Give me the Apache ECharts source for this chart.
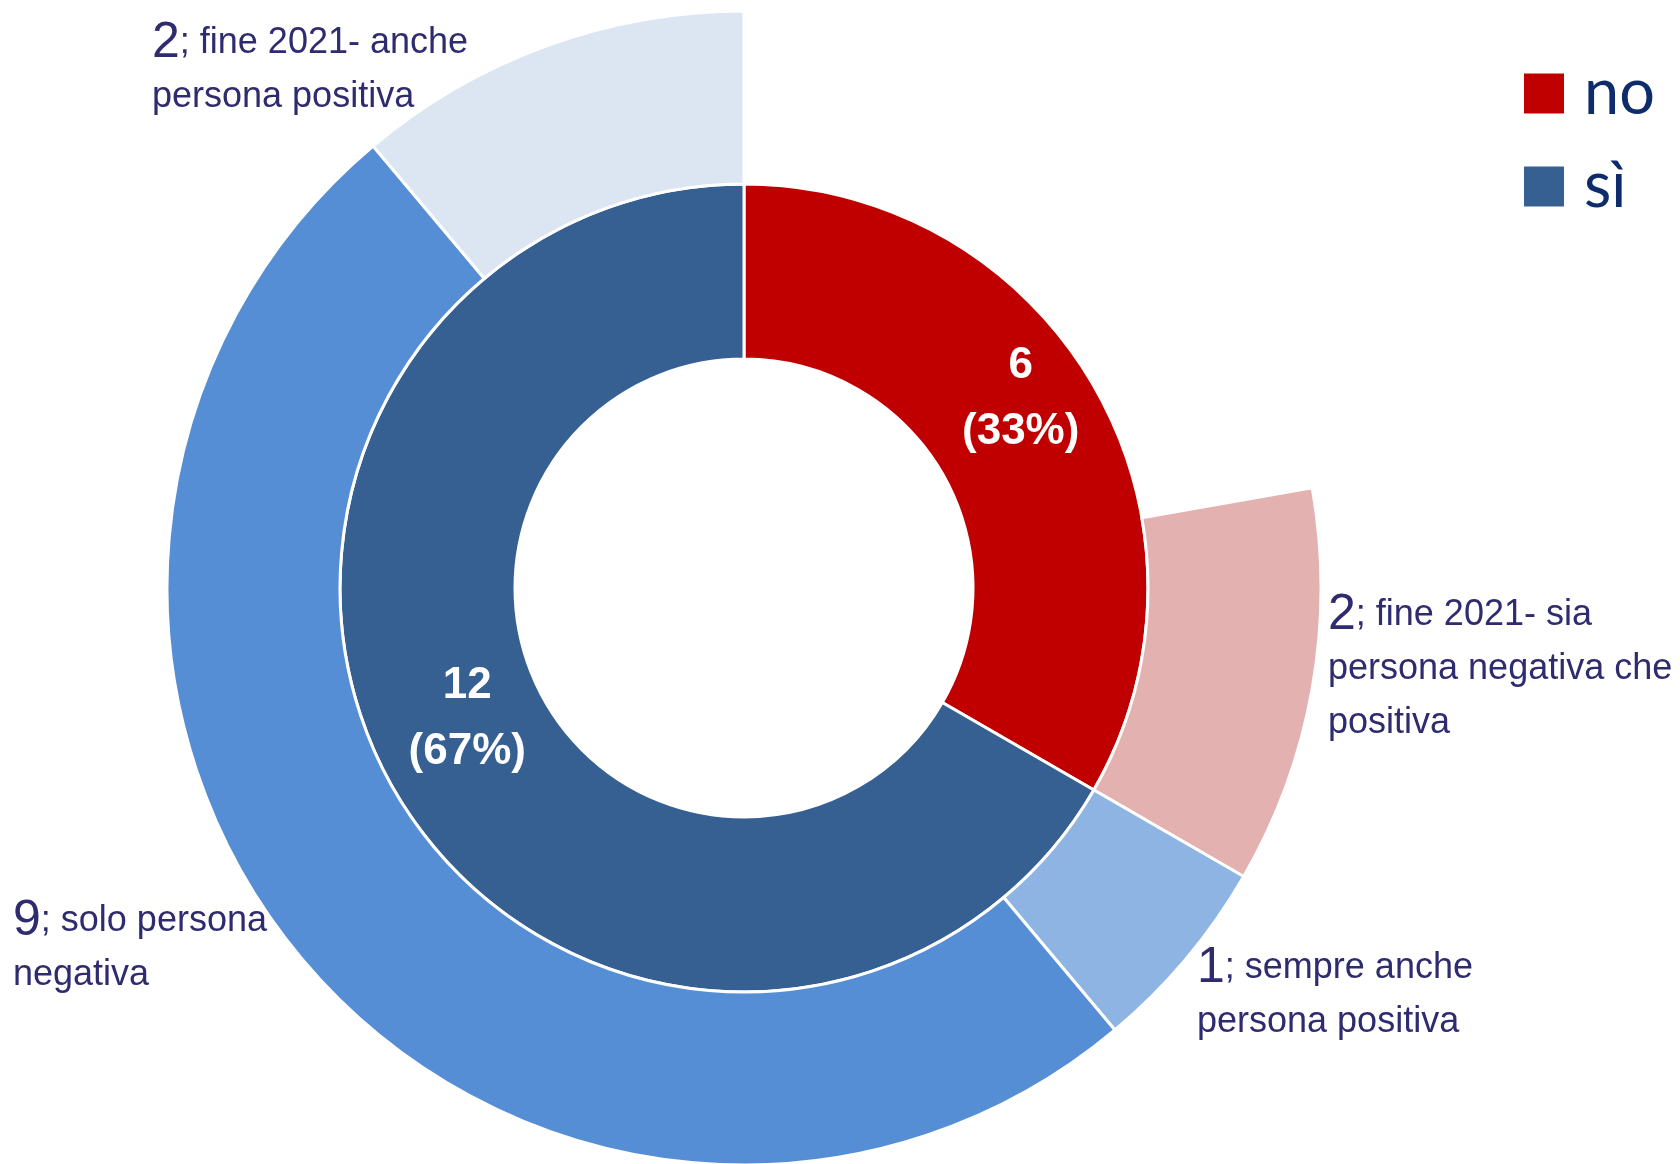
<!DOCTYPE html>
<html>
<head>
<meta charset="utf-8">
<script src="https://cdn.jsdelivr.net/npm/echarts@6/dist/echarts.min.js"></script>
<style>
  html, body { margin: 0; padding: 0; background: #fff; }
  #chart { width: 1680px; height: 1164px; }
</style>
</head>
<body>
<div id="chart"></div>
<script>
// anello interno
var innerNames = ['no', 'sì'];
var innerValues = [6, 12];
var innerColors = ['#C00000', '#376092'];

// anello esterno (il primo pezzo è vuoto: i 4 "no" senza dettaglio)
var outerNames = [
    '',
    'fine 2021- sia\npersona negativa che\npositiva',
    'sempre anche\npersona positiva',
    'solo persona\nnegativa',
    'fine 2021- anche\npersona positiva'
];
var outerValues = [4, 2, 1, 9, 2];
var outerColors = ['rgba(0,0,0,0)', '#E3B1B0', '#8EB4E3', '#558ED5', '#DCE6F2'];

// posizione delle etichette esterne (sinistra, centro verticale)
var labelPos = [null, [1328, 669], [1197, 995], [13, 948], [152, 70]];

var font = "'Liberation Sans', Arial, sans-serif";

var chartDom = document.getElementById('chart');
var myChart = echarts.init(chartDom);

var innerData = innerNames.map(function (n, i) {
    return { name: n, value: innerValues[i], itemStyle: { color: innerColors[i] } };
});

var outerData = outerNames.map(function (n, i) {
    var d = { name: n, value: outerValues[i], itemStyle: { color: outerColors[i] } };
    if (i === 0) {
        d.itemStyle.borderWidth = 0;
        d.label = { show: false };
        d.emphasis = { disabled: true };
    }
    return d;
});

var option = {
    animation: false,
    legend: {
        data: innerNames,
        orient: 'vertical',
        left: 1517,
        top: 57,
        itemWidth: 42,
        itemHeight: 42,
        itemGap: 30,
        icon: 'rect',
        textStyle: {
            fontFamily: 'Lato, "Open Sans", sans-serif',
            fontSize: 63,
            color: '#0E2C6B',
            padding: [0, 0, 0, 14]
        }
    },
    series: [
        {
            name: 'interno',
            type: 'pie',
            center: [744, 588],
            radius: [229, 404],
            startAngle: 90,
            clockwise: true,
            percentPrecision: 0,
            itemStyle: { borderColor: '#fff', borderWidth: 3 },
            label: {
                position: 'inside',
                formatter: '{c}\n({d}%)',
                color: '#fff',
                fontFamily: font,
                fontWeight: 'bold',
                fontSize: 44,
                lineHeight: 66
            },
            labelLine: { show: false },
            labelLayout: { dy: -29 },
            data: innerData
        },
        {
            name: 'esterno',
            type: 'pie',
            center: [744, 588],
            radius: [404, 577],
            startAngle: 90,
            clockwise: true,
            itemStyle: { borderColor: '#fff', borderWidth: 3 },
            label: {
                position: 'outside',
                overflow: 'none',
                formatter: function (p) {
                    var lines = p.name.split('\n');
                    var s = '{n|' + p.value + '}{t|; ' + lines[0] + '}';
                    for (var k = 1; k < lines.length; k++) {
                        s += '\n{t|' + lines[k] + '}';
                    }
                    return s;
                },
                align: 'left',
                rich: {
                    n: { fontFamily: font, fontSize: 50, color: '#2E2B6F', lineHeight: 54 },
                    t: { fontFamily: font, fontSize: 36, color: '#2E2B6F', lineHeight: 54 }
                }
            },
            labelLine: { show: false },
            labelLayout: function (params) {
                var pos = labelPos[params.dataIndex];
                if (!pos) return {};
                return { x: pos[0], y: pos[1], align: 'left', verticalAlign: 'middle' };
            },
            data: outerData
        }
    ]
};

myChart.setOption(option);
</script>
</body>
</html>
